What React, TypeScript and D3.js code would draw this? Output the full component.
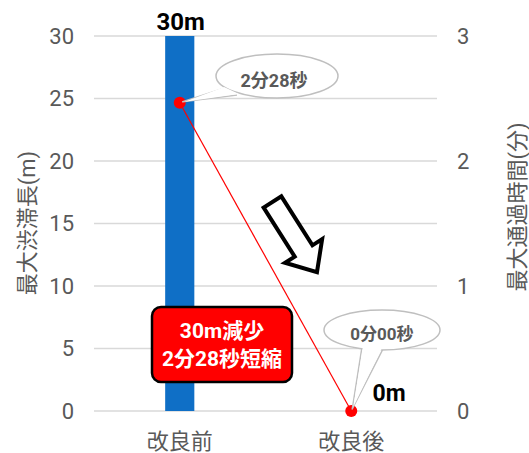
import React from "react";
import * as d3 from "d3";

const categories = ["改良前", "改良後"];
const lengthValues = [30, 0];
const timeValues = [2 + 28 / 60, 0];
const timeLabels = ["2分28秒", "0分00秒"];
const lengthLabels = ["30m", "0m"];
const leftTicks = [0, 5, 10, 15, 20, 25, 30];
const rightTicks = [0, 1, 2, 3];
const summaryLines = ["30m減少", "2分28秒短縮"];
const leftTitle = "最大渋滞長(m)";
const rightTitle = "最大通過時間(分)";

const W = 529;
const H = 453;
const FONT = "Roboto, 'Noto Sans CJK JP', sans-serif";
const GREY = "#595959";

export default function App() {
  const x = d3.scaleBand<string>().domain(categories).range([94, 437]);
  const yL = d3.scaleLinear().domain([0, 30]).range([411, 36]);
  const yR = d3.scaleLinear().domain([0, 3]).range([411, 36]);
  const barW = x.bandwidth() * 0.17;
  const cx = (c: string) => (x(c) as number) + x.bandwidth() / 2;

  const linePath = d3
    .line<number>()
    .x((_, i) => cx(categories[i]))
    .y((d) => yR(d))(timeValues) as string;

  // arrow geometry
  const aL = 83, sh = 10.5, hh = 22, hl = 25;
  const arrowPts: [number, number][] = [
    [0, -sh], [aL - hl, -sh], [aL - hl, -hh], [aL, 0], [aL - hl, hh], [aL - hl, sh], [0, sh],
  ];

  // callouts
  const p0 = { x: cx(categories[0]), y: yR(timeValues[0]) };
  const p1 = { x: cx(categories[1]), y: yR(timeValues[1]) };
  const c0 = { x: 277, y: 76, rx: 61, ry: 22 };
  const c1 = { x: 382, y: 330, rx: 58, ry: 20 };

  return (
    <svg width={W} height={H} style={{ position: "absolute", left: 0, top: 0, background: "#fff" }} fontFamily={FONT}>
      {/* gridlines */}
      {leftTicks.map((t) => (
        <line key={"g" + t} x1={94} x2={437} y1={yL(t)} y2={yL(t)} stroke="#D9D9D9" strokeWidth={1.5} />
      ))}
      {/* left ticks */}
      {leftTicks.map((t) => (
        <text key={"l" + t} x={74} y={yL(t)} textAnchor="end" dominantBaseline="central" fontSize={22} fill={GREY}>
          {t}
        </text>
      ))}
      {/* right ticks */}
      {rightTicks.map((t) => (
        <text key={"r" + t} x={457} y={yR(t)} textAnchor="start" dominantBaseline="central" fontSize={22} fill={GREY}>
          {t}
        </text>
      ))}
      {/* axis titles */}
      <text transform={`translate(27,223) rotate(-90)`} textAnchor="middle" dominantBaseline="central" fontSize={22} fill={GREY}>
        {leftTitle}
      </text>
      <text transform={`translate(517,207) rotate(-90)`} textAnchor="middle" dominantBaseline="central" fontSize={22} fill={GREY}>
        {rightTitle}
      </text>
      {/* category labels */}
      {categories.map((c) => (
        <text key={c} x={cx(c)} y={441} textAnchor="middle" dominantBaseline="central" fontSize={22} fill={GREY}>
          {c}
        </text>
      ))}
      {/* bars */}
      {categories.map((c, i) =>
        lengthValues[i] > 0 ? (
          <rect key={"b" + c} x={cx(c) - barW / 2} width={barW} y={yL(lengthValues[i])} height={yL(0) - yL(lengthValues[i])} fill="#0F6FC6" />
        ) : null
      )}
      {/* bar labels */}
      <text x={cx(categories[0]) + 1} y={30} textAnchor="middle" fontSize={24} fontWeight="bold" fill="#000">
        {lengthLabels[0]}
      </text>
      <text x={389} y={401} textAnchor="middle" fontSize={23} fontWeight="bold" fill="#000">
        {lengthLabels[1]}
      </text>
      {/* line */}
      <path d={linePath} fill="none" stroke="#FF0000" strokeWidth={1.2} />
      {timeValues.map((v, i) => (
        <circle key={"p" + i} cx={cx(categories[i])} cy={yR(v)} r={6} fill="#FF0000" />
      ))}
      {/* callout 0 */}
      <g>
        <path
          d={`M${c0.x - 52},${c0.y + 12} L${p0.x + 3},${p0.y - 1} L${c0.x - 40},${c0.y + 19}`}
          fill="#fff"
          stroke="#BFBFBF"
          strokeWidth={1.5}
          strokeLinejoin="round"
        />
        <ellipse cx={c0.x} cy={c0.y} rx={c0.rx} ry={c0.ry} fill="#fff" stroke="#BFBFBF" strokeWidth={1.5} />
        <path d={`M${c0.x - 53},${c0.y + 11} L${p0.x + 5},${p0.y - 1} L${c0.x - 38},${c0.y + 18} Z`} fill="#fff" stroke="none" />
        <text x={c0.x - 3} y={c0.y + 4} textAnchor="middle" dominantBaseline="central" fontSize={18} fontWeight="bold" fill={GREY}>
          {timeLabels[0]}
        </text>
      </g>
      {/* callout 1 */}
      <g>
        <path
          d={`M${c1.x - 20},${c1.y + 17} L${p1.x + 1},${p1.y - 2} L${c1.x + 1},${c1.y + 19}`}
          fill="#fff"
          stroke="#BFBFBF"
          strokeWidth={1.5}
          strokeLinejoin="round"
        />
        <ellipse cx={c1.x} cy={c1.y} rx={c1.rx} ry={c1.ry} fill="#fff" stroke="#BFBFBF" strokeWidth={1.5} />
        <path d={`M${c1.x - 19},${c1.y + 16} L${p1.x + 2},${p1.y - 4} L${c1.x},${c1.y + 18} Z`} fill="#fff" stroke="none" />
        <text x={c1.x} y={c1.y + 4} textAnchor="middle" dominantBaseline="central" fontSize={17} fontWeight="bold" fill={GREY}>
          {timeLabels[1]}
        </text>
      </g>
      {/* arrow */}
      <polygon
        points={arrowPts.map((p) => p.join(",")).join(" ")}
        transform="translate(272.5,202) rotate(57.6)"
        fill="#fff"
        stroke="#000"
        strokeWidth={4}
        strokeLinejoin="miter"
      />
      {/* summary box */}
      <rect x={152} y={307} width={140} height={75} rx={9} fill="#FF0000" stroke="#000" strokeWidth={2.5} />
      {summaryLines.map((s, i) => (
        <text key={s} x={222} y={331 + i * 28} textAnchor="middle" dominantBaseline="central" fontSize={21} fontWeight="bold" fill="#fff">
          {s}
        </text>
      ))}
    </svg>
  );
}
